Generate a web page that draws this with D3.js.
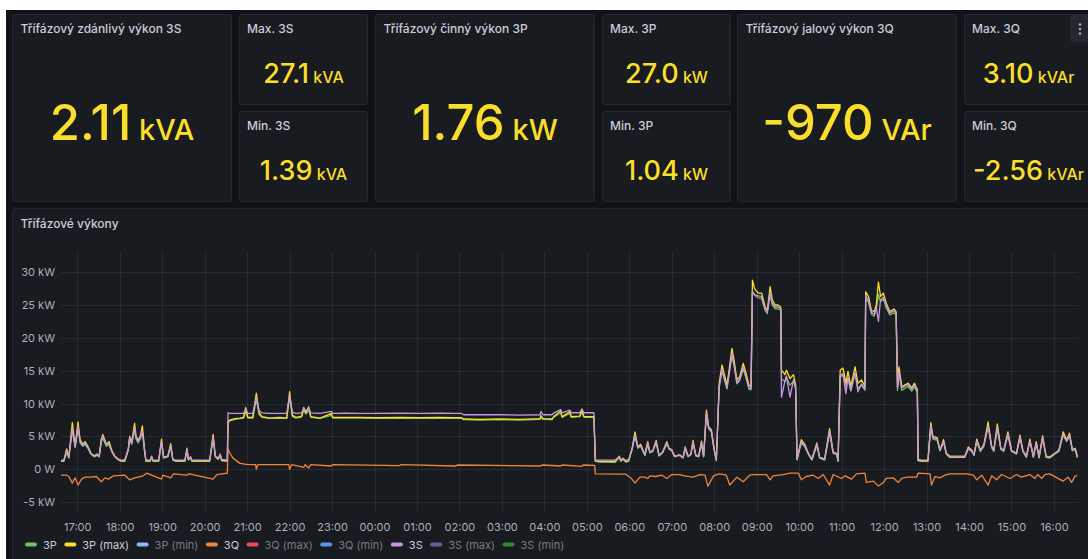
<!DOCTYPE html>
<html>
<head>
<meta charset="utf-8">
<script src="https://cdn.jsdelivr.net/npm/d3@7"></script>
<style>
  html, body { margin: 0; padding: 0; background: #ffffff; overflow: hidden; }
  svg { display: block; font-family: Inter, "Noto Sans", sans-serif; }
</style>
</head>
<body>
<svg id="dash" width="1088" height="559"></svg>
<script>
// ---- stat panels ----
const statTitles = ["Třífázový zdánlivý výkon 3S", "Max. 3S", "Min. 3S",
                    "Třífázový činný výkon 3P", "Max. 3P", "Min. 3P",
                    "Třífázový jalový výkon 3Q", "Max. 3Q", "Min. 3Q"];
const statValues = ["2.11", "27.1", "1.39", "1.76", "27.0", "1.04", "-970", "3.10", "-2.56"];
const statUnits  = ["kVA", "kVA", "kVA", "kW", "kW", "kW", "VAr", "kVAr", "kVAr"];

// ---- time series panel ----
const chartTitle = "Třífázové výkony";
const seriesNames  = ["3P", "3P (max)", "3P (min)", "3Q", "3Q (max)", "3Q (min)", "3S", "3S (max)", "3S (min)"];
const seriesColors = ["#73BF69", "#FADE2A", "#8AB8FF", "#EF843C", "#F2495C", "#5794F2", "#CA95E5", "#705DA0", "#37872D"];
const yTicks = [-5, 0, 5, 10, 15, 20, 25, 30];

// sample times for the active / apparent power series (day rolls over after midnight)
const powerTimes = [
  "16:37","16:41","16:45","16:48","16:53","16:57","17:01","17:04","17:08","17:11",
  "17:15","17:19","17:24","17:28","17:31","17:34","17:36","17:41","17:45","17:49",
  "17:53","17:57","18:02","18:07","18:12","18:14","18:17","18:21","18:23","18:26",
  "18:29","18:32","18:35","18:37","18:43","18:45","18:47","18:55","18:59","19:02",
  "19:08","19:12","19:15","19:19","19:32","19:35","19:37","19:40","19:42","20:07",
  "20:12","20:15","20:19","20:22","20:24","20:32","20:33","20:36","20:43","20:50",
  "20:55","20:58","21:01","21:08","21:13","21:17","21:21","21:32","21:46","21:56",
  "22:00","22:04","22:09","22:17","22:20","22:23","22:27","22:30","22:43","22:59",
  "23:01","23:18","23:39","00:01","00:36","01:04","01:32","01:54","02:03","02:06",
  "02:29","02:57","03:25","03:54","03:55","03:58","04:11","04:13","04:23","04:25",
  "04:36","04:38","04:50","04:53","04:56","05:10","05:12","05:18","05:40","05:46",
  "05:48","05:51","05:55","05:59","06:04","06:08","06:12","06:16","06:22","06:26",
  "06:29","06:33","06:38","06:42","06:47","06:53","06:56","07:00","07:04","07:11",
  "07:16","07:19","07:23","07:27","07:30","07:34","07:38","07:42","07:45","07:49",
  "07:52","07:56","08:00","08:03","08:07","08:11","08:15","08:18","08:21","08:25",
  "08:28","08:32","08:36","08:41","08:45","08:49","08:52","08:54","08:57","09:02",
  "09:07","09:12","09:15","09:19","09:22","09:26","09:30","09:34","09:35","09:40",
  "09:42","09:47","09:52","09:55","09:57","10:03","10:08","10:13","10:18","10:25",
  "10:29","10:36","10:43","10:48","10:53","10:55","10:58","11:02","11:06","11:09",
  "11:13","11:19","11:23","11:28","11:33","11:34","11:38","11:42","11:46","11:49",
  "11:52","11:55","11:59","12:03","12:08","12:14","12:17","12:19","12:21","12:25",
  "12:29","12:34","12:39","12:43","12:47","12:48","12:53","13:02","13:06","13:09",
  "13:15","13:19","13:24","13:28","13:33","13:44","13:54","13:59","14:04","14:07",
  "14:11","14:16","14:21","14:27","14:32","14:35","14:40","14:45","14:49","14:55",
  "15:00","15:07","15:12","15:16","15:21","15:26","15:31","15:35","15:39","15:44",
  "15:49","15:54","16:01","16:07","16:13","16:18","16:22","16:26","16:30","16:33"
];

// 3P – active power, kW
const p3 = [
  1.2,1.2,2.6,1.7,5.9,3.3,6.2,4.0,3.5,3.8,
  3.2,2.3,1.9,2.1,1.9,4.2,4.8,3.5,3.7,2.6,
  1.9,1.5,1.2,1.2,2.8,4.5,3.8,6.0,4.6,4.0,
  4.6,5.6,2.8,1.2,1.2,1.8,1.2,1.2,4.0,1.7,
  1.9,3.4,1.4,1.2,1.2,2.9,1.4,1.7,1.2,1.2,
  4.6,1.9,1.5,2.1,1.3,1.2,7.1,7.4,7.6,7.7,
  7.8,8.8,7.8,7.8,10.6,8.3,7.9,7.75,7.8,7.75,
  10.9,8.0,7.8,7.95,9.0,8.4,9.0,7.9,7.75,8.2,
  7.8,7.8,7.8,7.75,7.8,7.75,7.8,7.75,7.75,7.55,
  7.5,7.55,7.5,7.6,7.9,7.6,7.55,7.9,8.6,7.9,
  8.5,7.9,8.0,8.7,7.9,7.9,1.2,1.1,1.04,1.8,
  1.2,1.5,1.1,1.2,3.0,5.0,3.2,3.5,2.1,3.8,
  2.5,2.7,4.0,2.0,2.5,3.9,3.1,2.8,1.9,2.1,
  1.7,3.1,1.9,2.2,4.0,2.0,1.9,3.9,1.9,8.3,
  6.2,5.6,2.8,1.3,12.4,15.0,13.4,12.2,14.4,17.2,
  15.8,13.0,13.5,15.3,13.9,12.2,12.1,27.0,26.5,26.1,
  26.0,24.1,23.7,26.6,25.0,24.4,24.4,24.2,13.8,13.3,
  14.0,12.8,13.4,12.2,1.4,4.0,3.4,2.3,1.4,3.6,
  1.7,1.4,5.5,2.4,2.3,1.2,14.0,14.4,12.4,13.8,
  11.9,14.6,12.3,12.8,12.0,26.0,25.4,23.6,23.3,24.3,
  26.6,25.5,25.9,24.6,23.5,23.8,23.5,12.0,14.6,12.0,
  12.3,12.6,11.9,12.5,11.7,1.3,1.2,1.2,6.4,4.6,
  4.4,2.8,4.1,2.3,1.8,1.8,1.8,3.1,2.7,2.1,
  4.2,2.7,3.5,6.5,3.3,2.7,6.2,3.0,2.7,5.2,
  2.7,2.3,4.8,2.7,1.8,4.2,1.8,3.9,1.7,4.7,
  1.8,1.7,2.3,2.7,5.2,4.2,5.1,2.8,3.0,1.76
];

// 3P (max) – interval maximum of active power, kW
const p3Max = [
  1.2,1.3,3.1,1.8,7.1,3.5,7.2,4.5,3.8,4.2,
  3.5,2.5,2.0,2.3,2.0,4.5,5.3,3.8,4.2,2.8,
  2.0,1.6,1.3,1.3,3.0,5.0,4.2,7.0,5.0,4.4,
  5.0,6.6,3.0,1.3,1.3,2.0,1.3,1.3,4.6,1.8,
  2.0,3.9,1.5,1.3,1.3,3.2,1.5,1.9,1.3,1.3,
  5.3,2.0,1.6,2.3,1.4,1.3,7.3,7.5,7.7,7.8,
  7.9,9.4,7.9,7.9,11.6,8.6,8.0,7.8,7.9,7.8,
  11.8,8.2,7.9,8.1,9.4,8.6,9.5,8.0,7.8,8.5,
  7.9,7.9,7.9,7.85,7.9,7.85,7.9,7.85,7.85,7.65,
  7.6,7.65,7.6,7.7,8.2,7.7,7.65,8.0,8.9,8.0,
  8.8,8.0,8.1,9.0,8.0,8.0,1.3,1.2,1.2,2.0,
  1.3,1.7,1.2,1.3,3.2,5.7,3.4,3.8,2.2,4.2,
  2.6,2.8,4.4,2.1,2.6,4.2,3.2,3.0,2.0,2.2,
  1.8,3.4,2.0,2.3,4.4,2.1,2.0,4.3,2.0,9.0,
  6.5,6.0,3.0,1.4,13.1,15.9,14.1,12.8,15.1,18.4,
  16.6,13.6,14.1,16.1,14.6,12.8,12.6,28.8,27.5,26.8,
  26.8,24.7,24.2,27.8,25.8,25.0,25.0,24.7,15.1,14.4,
  15.1,13.8,14.4,12.8,1.5,4.5,3.8,2.4,1.5,4.0,
  1.8,1.5,6.2,2.6,2.4,1.3,15.1,15.4,13.1,14.9,
  12.6,15.6,13.1,13.6,12.6,27.0,26.3,24.2,24.0,25.0,
  28.5,26.3,26.8,25.3,24.0,24.4,24.0,12.6,15.6,12.6,
  12.8,13.1,12.4,13.1,12.1,1.4,1.3,1.3,7.1,5.0,
  4.8,2.9,4.5,2.4,1.9,1.9,1.9,3.4,2.9,2.2,
  4.6,2.9,3.8,7.2,3.5,2.9,6.9,3.2,2.9,5.7,
  2.9,2.4,5.2,2.9,1.9,4.6,1.9,4.2,1.8,5.1,
  1.9,1.8,2.4,2.9,5.7,4.5,5.5,3.0,3.2,1.9
];

// 3S – apparent power, kVA
const s3 = [
  1.4,1.4,2.8,1.9,6.2,3.4,6.6,4.2,3.7,4.0,
  3.4,2.4,2.1,2.3,2.1,4.6,5.1,3.7,3.9,2.7,
  2.0,1.6,1.4,1.4,3.0,4.8,4.0,6.3,4.8,4.2,
  4.9,5.9,3.0,1.4,1.4,1.9,1.4,1.4,4.2,1.8,
  2.0,3.6,1.5,1.4,1.4,3.0,1.6,1.8,1.4,1.4,
  4.8,2.0,1.7,2.2,1.5,1.4,8.6,8.5,8.5,8.5,
  8.5,9.2,8.5,8.5,10.9,8.9,8.6,8.5,8.5,8.5,
  11.2,8.7,8.5,8.6,9.3,8.9,9.3,8.6,8.5,8.8,
  8.5,8.55,8.5,8.5,8.55,8.5,8.55,8.5,8.5,8.3,
  8.3,8.3,8.25,8.3,8.8,8.3,8.3,8.55,9.1,8.6,
  9.0,8.6,8.6,9.2,8.6,8.6,1.4,1.39,1.4,1.9,
  1.4,1.6,1.4,1.4,3.1,5.2,3.4,3.6,2.2,4.0,
  2.6,2.8,4.1,2.1,2.6,4.0,3.2,2.9,2.0,2.2,
  1.8,3.3,2.0,2.3,4.1,2.1,2.0,4.0,2.0,8.6,
  6.4,5.8,3.0,1.5,12.6,15.2,13.5,12.4,14.6,17.6,
  16.0,13.2,13.7,15.6,14.0,12.4,12.3,27.1,26.6,26.4,
  26.3,24.4,24.0,26.9,25.3,24.7,24.7,24.5,11.0,13.5,
  14.2,11.0,13.6,12.5,1.6,4.2,3.6,2.4,1.6,3.8,
  1.8,1.6,5.8,2.6,2.4,1.4,14.2,14.6,11.5,14.0,
  12.0,14.8,11.8,13.0,12.2,26.4,25.8,23.9,23.6,24.6,
  22.5,25.8,26.2,25.0,23.8,24.1,23.8,12.4,14.8,12.4,
  12.6,12.9,12.2,12.8,12.0,1.5,1.4,1.4,6.6,4.8,
  4.6,2.9,4.2,2.4,2.0,2.0,2.0,3.2,2.8,2.2,
  4.3,2.9,3.6,6.6,3.4,2.9,6.3,3.1,2.9,5.3,
  2.9,2.4,4.9,2.9,2.0,4.3,2.0,4.0,1.9,4.8,
  2.0,1.9,2.4,2.9,5.3,4.4,5.2,3.0,3.1,2.11
];

// 3Q – reactive power, kVAr
const reactiveTimes = [
  "16:37","16:45","16:48","16:53","16:57","17:01","17:06","17:11","17:18","17:27",
  "17:34","17:39","17:44","17:51","18:07","18:14","18:21","18:33","18:38","18:59",
  "19:01","19:12","19:16","19:35","19:38","20:12","20:17","20:32","20:33","20:36",
  "20:40","20:50","20:59","21:12","21:13","21:15","21:59","22:00","22:03","22:20",
  "22:22","22:27","22:30","22:59","23:01","00:35","00:37","01:55","01:57","03:55",
  "03:57","04:23","04:25","04:53","04:55","05:11","05:12","05:55","06:03","06:08",
  "06:15","06:22","06:26","06:29","06:37","06:46","06:53","07:00","07:11","07:18",
  "07:30","07:40","07:47","07:51","07:59","08:07","08:17","08:22","08:32","08:41",
  "08:50","08:55","09:14","09:19","09:23","09:37","09:47","09:59","10:03","10:10",
  "10:20","10:27","10:34","10:43","10:48","11:00","11:05","11:14","11:21","11:33",
  "11:35","11:45","11:52","11:59","12:03","12:13","12:20","12:25","12:32","12:46",
  "12:48","13:05","13:07","13:12","13:19","13:26","13:33","13:57","14:06","14:11",
  "14:18","14:27","14:32","14:39","14:46","14:58","15:07","15:14","15:26","15:33",
  "15:37","15:43","15:47","15:54","16:13","16:20","16:25","16:30","16:33"
];
const q3 = [
  -0.9,-0.9,-1.1,-2.1,-1.3,-2.4,-1.5,-1.2,-1.2,-1.1,
  -1.9,-1.3,-1.5,-1.0,-0.9,-1.6,-1.3,-1.0,-0.6,-1.5,
  -0.9,-1.3,-0.7,-0.9,-0.7,-1.5,-0.8,-0.6,3.1,2.4,
  1.7,0.9,0.75,0.7,0.0,0.7,0.7,0.0,0.7,0.3,
  0.7,0.2,0.7,0.5,0.7,0.55,0.7,0.5,0.65,0.5,
  0.65,0.5,0.65,0.45,0.65,0.6,-0.7,-0.75,-1.4,-2.1,
  -1.2,-1.2,-1.4,-1.0,-1.1,-0.9,-1.4,-0.8,-0.8,-1.0,
  -1.2,-0.8,-0.9,-2.56,-1.0,-0.7,-0.9,-2.4,-1.2,-1.9,
  -0.9,-0.8,-0.8,-1.6,-1.0,-0.8,-0.6,-0.6,-1.6,-1.1,
  -0.9,-1.4,-0.8,-2.4,-0.8,-1.4,-1.0,-1.5,-0.7,-0.6,
  -2.0,-1.8,-2.56,-2.0,-1.4,-1.3,-2.0,-1.4,-1.2,-1.2,
  -0.6,-0.7,-2.4,-1.1,-1.3,-0.9,-0.7,-0.7,-0.9,-1.6,
  -0.9,-2.4,-1.0,-1.6,-0.8,-1.4,-0.8,-1.2,-0.8,-1.4,
  -0.8,-1.4,-0.8,-0.7,-1.8,-1.2,-2.0,-1.0,-0.97
];

// ---------------------------------------------------------------------------
const W = 1088, H = 559;
const svg = d3.select("#dash");

// dashboard canvas
svg.append("rect").attr("x", 6).attr("y", 10).attr("width", W).attr("height", H).attr("fill", "#111217");

function panel(x, y, w, h) {
  svg.append("rect")
    .attr("x", x + 0.5).attr("y", y + 0.5)
    .attr("width", w - 1).attr("height", h - 1)
    .attr("rx", 2)
    .attr("fill", "#181b1f")
    .attr("stroke", "#24272c");
}

function title(x, y, text) {
  svg.append("text")
    .attr("x", x).attr("y", y)
    .attr("fill", "#ccccdc")
    .attr("font-size", 12)
    .attr("font-weight", 500)
    .text(text);
}

function statValue(cx, baseline, value, unit, valueSize, unitSize) {
  const t = svg.append("text")
    .attr("x", cx).attr("y", baseline)
    .attr("text-anchor", "middle")
    .attr("fill", "#FADE2A")
    .attr("font-weight", 500)
    .style("white-space", "pre");
  t.append("tspan").attr("font-size", valueSize).text(value);
  t.append("tspan").attr("font-size", unitSize).text(" " + unit);
}

// three groups: big current-value panel + max / min panels
const groupX = [12, 375, 737];
groupX.forEach((gx, g) => {
  const i = g * 3;
  const bigW = 220, smallX = gx + 227, smallW = 129;
  panel(gx, 14, bigW, 188);
  panel(smallX, 14, smallW, 91);
  panel(smallX, 111, smallW, 91);
  title(gx + 8.5, 33, statTitles[i]);
  title(smallX + 8, 33, statTitles[i + 1]);
  title(smallX + 8, 130, statTitles[i + 2]);
  statValue(gx + bigW / 2, 140, statValues[i], statUnits[i], 49, 29);
  statValue(smallX + smallW / 2, 83, statValues[i + 1], statUnits[i + 1], 27, 16);
  statValue(smallX + smallW / 2, 180, statValues[i + 2], statUnits[i + 2], 27, 16);
});

// panel menu button on the last panel
svg.append("rect").attr("x", 1070).attr("y", 15).attr("width", 22).attr("height", 27)
  .attr("rx", 2).attr("fill", "#24272d");
[24.5, 29, 33.5].forEach(cy => {
  svg.append("circle").attr("cx", 1080).attr("cy", cy).attr("r", 1.3).attr("fill", "#a8aab3");
});

// ---- time series panel ----
panel(12, 208, 1084, 360);
title(20.5, 228, chartTitle);

function toDates(list) {
  let day = 0, prev = -1;
  return list.map(s => {
    const [h, m] = s.split(":").map(Number);
    const mins = h * 60 + m;
    if (mins < prev) day++;
    prev = mins;
    return new Date(2024, 0, 15 + day, h, m);
  });
}
const pT = toDates(powerTimes);
const qT = toDates(reactiveTimes);

const plot = { left: 61, right: 1078, top: 252, bottom: 511 };
const x = d3.scaleTime()
  .domain([new Date(2024, 0, 15, 16, 37), new Date(2024, 0, 16, 16, 34)])
  .range([plot.left, plot.right]);
const y = d3.scaleLinear().domain([-6.35, 33.07]).range([plot.bottom, plot.top]);

const gridColor = "rgba(204,204,220,0.09)";
const hours = x.ticks(d3.timeHour.every(1));

const grid = svg.append("g");
grid.selectAll(".vg").data(hours).join("line")
  .attr("x1", d => Math.round(x(d)) + 0.5).attr("x2", d => Math.round(x(d)) + 0.5)
  .attr("y1", plot.top).attr("y2", plot.bottom)
  .attr("stroke", gridColor);
grid.selectAll(".hg").data(yTicks).join("line")
  .attr("x1", plot.left).attr("x2", plot.right)
  .attr("y1", d => Math.round(y(d)) + 0.5).attr("y2", d => Math.round(y(d)) + 0.5)
  .attr("stroke", gridColor);

const axisText = "rgba(204,204,220,0.85)";
const yAxis = svg.append("g")
  .attr("transform", `translate(${plot.left},0)`)
  .call(d3.axisLeft(y).tickValues(yTicks).tickSize(0).tickPadding(6)
    .tickFormat(v => v === 0 ? "0 W" : v + " kW"));
yAxis.select(".domain").remove();
yAxis.selectAll("text").attr("fill", axisText).attr("font-size", 11).attr("font-family", "Inter, sans-serif");

const xAxis = svg.append("g")
  .attr("transform", `translate(0,${plot.bottom})`)
  .call(d3.axisBottom(x).tickValues(hours).tickSize(0).tickPadding(12)
    .tickFormat(d3.timeFormat("%H:%M")));
xAxis.select(".domain").remove();
xAxis.selectAll("text").attr("fill", axisText).attr("font-size", 11).attr("font-family", "Inter, sans-serif");

svg.append("clipPath").attr("id", "plotClip").append("rect")
  .attr("x", plot.left).attr("y", plot.top)
  .attr("width", plot.right - plot.left).attr("height", plot.bottom - plot.top);

const lines = svg.append("g").attr("clip-path", "url(#plotClip)");
const line = d3.line().x(d => x(d[0])).y(d => y(d[1]));

const drawn = [
  { name: "3P",       times: pT, values: p3 },
  { name: "3P (max)", times: pT, values: p3Max },
  { name: "3Q",       times: qT, values: q3 },
  { name: "3S",       times: pT, values: s3 }
];
drawn.forEach(s => {
  const pts = s.times.map((t, i) => [t, s.values[i]]).filter(d => d[1] != null);
  lines.append("path")
    .attr("d", line(pts))
    .attr("fill", "none")
    .attr("stroke", seriesColors[seriesNames.indexOf(s.name)])
    .attr("stroke-width", 1.3)
    .attr("stroke-linejoin", "round");
});

// ---- legend ----
const shown = new Set(drawn.map(s => s.name));
const legend = svg.append("g");
let lx = 25;
seriesNames.forEach((name, i) => {
  legend.append("rect")
    .attr("x", lx).attr("y", 542.5).attr("width", 12).attr("height", 4).attr("rx", 2)
    .attr("fill", seriesColors[i]);
  const t = legend.append("text")
    .attr("x", lx + 18).attr("y", 548.5)
    .attr("font-size", 11)
    .attr("fill", shown.has(name) ? "#ccccdc" : "rgba(204,204,220,0.55)")
    .text(name);
  lx += 18 + t.node().getComputedTextLength() + 7.5;
});
</script>
</body>
</html>
